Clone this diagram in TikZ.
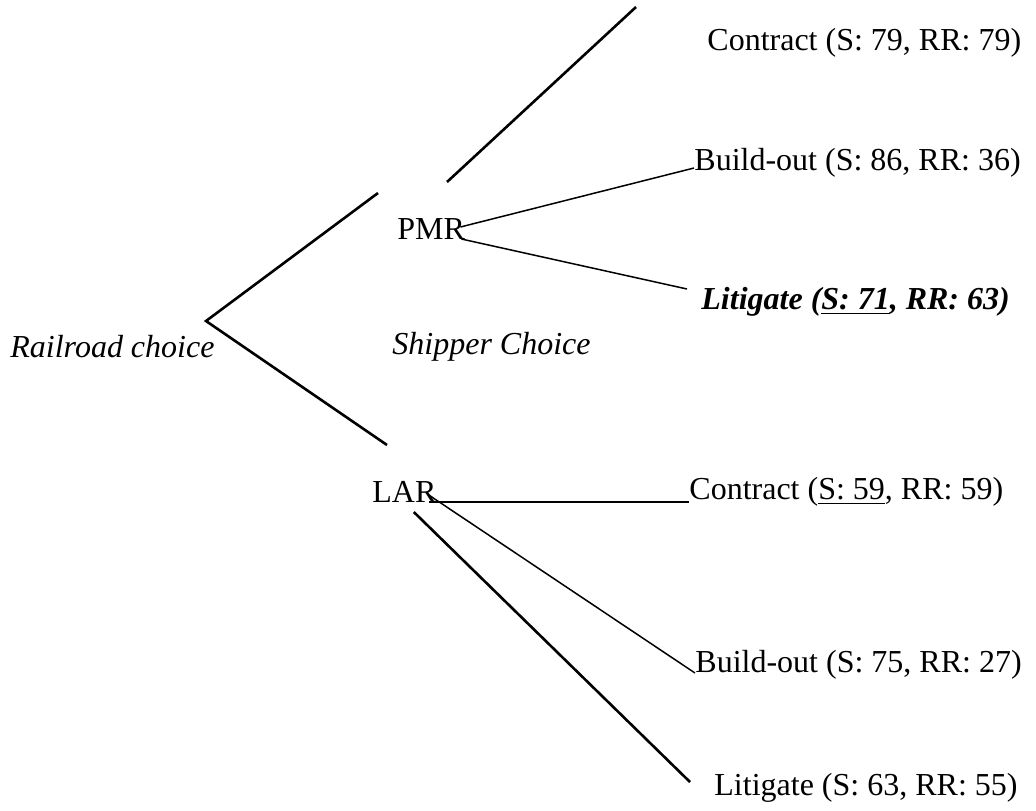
\documentclass[tikz,border=0pt]{standalone}
\usepackage{fontspec}
\setmainfont{Liberation Serif}
\newcommand{\thkul}[1]{\underline{#1}}
\begin{document}
\begin{tikzpicture}[x=0.5pt,y=-0.5pt,
  lbl/.style={anchor=west,inner sep=0pt,font=\fontsize{16}{19}\selectfont},
  thinln/.style={line width=0.75pt},
  thickln/.style={line width=1.3pt}]
\useasboundingbox (0,0) rectangle (1036,810);
% labels
\node[lbl] (c1) at (707,43) {Contract (S: 79, RR: 79)};
\node[lbl] (b1) at (694,163) {Build-out (S: 86, RR: 36)};
\node[lbl] (l1) at (701,302) {\textbf{\textit{Litigate (\thkul{S: 71}, RR: 63)}}};
\node[lbl] (pmr) at (397,229) {PMR};
\node[lbl] (rc) at (10,347) {\textit{Railroad choice}};
\node[lbl] (sc) at (392,347) {\textit{Shipper Choice}};
\node[lbl] (lar) at (372,492) {LAR};
\node[lbl] (c2) at (689,492) {Contract (\underline{S: 59}, RR: 59)};
\node[lbl] (b2) at (695,665) {Build-out (S: 75, RR: 27)};
\node[lbl] (l2) at (714,788) {Litigate (S: 63, RR: 55)};
% coordinates
\coordinate (root) at (206,321);
\coordinate (up) at (378,193);
\coordinate (dn) at (387,445);
\coordinate (cs) at (447,182);
\coordinate (ce) at (636,7);
% first stage
\draw[thickln] (up) -- (root) -- (dn);
% PMR branches
\draw[thickln] (cs) -- (ce);
\draw[thinln] ([xshift=-2.5pt,yshift=1pt]pmr.east) -- ([yshift=-2.5pt]b1.west);
\draw[thinln] ([xshift=-2pt,yshift=-5pt]pmr.east) -- ([xshift=-7pt,yshift=6.5pt]l1.west);
% LAR branches
\draw[thickln] ([xshift=-4pt,yshift=-5pt]lar.east) -- ([yshift=-5pt]c2.west);
\draw[thinln] ([xshift=-4pt,yshift=-1.5pt]lar.east) -- ([yshift=-4pt]b2.west);
\draw[thickln] ([xshift=-11.5pt,yshift=-10pt]lar.east) -- ([xshift=-12pt,yshift=3pt]l2.west);
\end{tikzpicture}
\end{document}
